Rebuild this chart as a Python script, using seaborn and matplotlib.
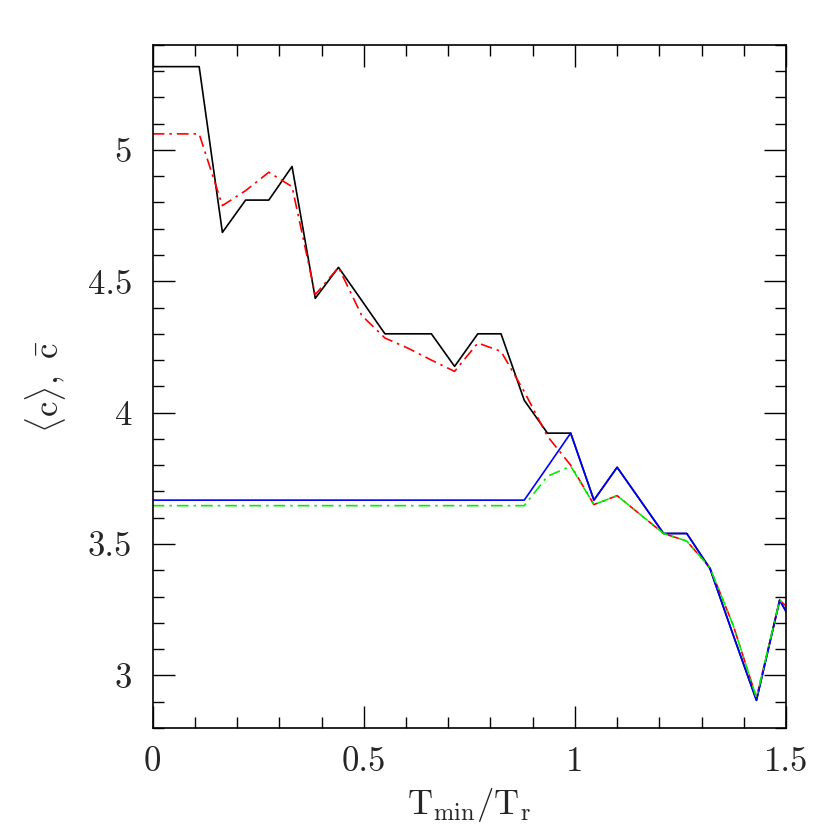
import numpy as np
import pandas as pd
import seaborn as sns
import matplotlib.pyplot as plt
from matplotlib.ticker import MultipleLocator

# T_min / T_r grid
t_ratio = [0.0, 0.055, 0.11, 0.165, 0.22, 0.275, 0.33, 0.385, 0.44, 0.495,
           0.55, 0.605, 0.66, 0.715, 0.77, 0.825, 0.88, 0.935, 0.99, 1.045,
           1.1, 1.155, 1.21, 1.265, 1.32, 1.375, 1.43, 1.485, 1.54]

# black solid
c_black = [5.317, 5.317, 5.317, 4.686, 4.809, 4.809, 4.937, 4.435, 4.553, 4.427,
           4.30, 4.30, 4.30, 4.176, 4.30, 4.30, 4.047, 3.922, 3.922, 3.667,
           3.792, 3.666, 3.540, 3.540, 3.406, 3.153, 2.905, 3.286, 3.13]

# red dash-dot
c_red = [5.061, 5.061, 5.061, 4.788, 4.845, 4.915, 4.860, 4.449, 4.553, 4.37,
         4.284, 4.245, 4.20, 4.157, 4.265, 4.233, 4.08, 3.91, 3.80, 3.65,
         3.684, 3.612, 3.540, 3.511, 3.409, 3.19, 2.915, 3.286, 3.205]

# blue solid
c_blue = [3.667, 3.667, 3.667, 3.667, 3.667, 3.667, 3.667, 3.667, 3.667, 3.667,
          3.667, 3.667, 3.667, 3.667, 3.667, 3.667, 3.667, 3.794, 3.922, 3.667,
          3.792, 3.666, 3.540, 3.540, 3.406, 3.153, 2.905, 3.286, 3.13]

# green dash-dot
c_green = [3.646, 3.646, 3.646, 3.646, 3.646, 3.646, 3.646, 3.646, 3.646, 3.646,
           3.646, 3.646, 3.646, 3.646, 3.646, 3.646, 3.646, 3.758, 3.796, 3.65,
           3.684, 3.612, 3.540, 3.511, 3.409, 3.19, 2.915, 3.286, 3.205]

sns.set_style('ticks')
plt.rcParams['mathtext.fontset'] = 'cm'
plt.rcParams['font.family'] = ['cmr10', 'DejaVu Serif']
plt.rcParams['axes.formatter.use_mathtext'] = True

fig = plt.figure(figsize=(8.3, 8.3), dpi=100)
ax = fig.add_axes([0.184, 0.123, 0.763, 0.823])

dashdot = (0, (7, 3, 1.5, 3))
sns.lineplot(x=t_ratio, y=c_black, color='black', lw=1.2, ax=ax)
sns.lineplot(x=t_ratio, y=c_red, color='red', lw=1.2, linestyle=dashdot, ax=ax)
sns.lineplot(x=t_ratio, y=c_blue, color='blue', lw=1.2, ax=ax)
sns.lineplot(x=t_ratio, y=c_green, color='#00ee00', lw=1.2, linestyle=dashdot, ax=ax)

ax.set_xlim(0, 1.5)
ax.set_ylim(2.8, 5.4)
ax.xaxis.set_major_locator(MultipleLocator(0.5))
ax.xaxis.set_minor_locator(MultipleLocator(0.1))
ax.yaxis.set_major_locator(MultipleLocator(0.5))
ax.yaxis.set_minor_locator(MultipleLocator(0.1))
ax.xaxis.set_major_formatter(plt.FuncFormatter(lambda v, p: '%g' % v))
ax.yaxis.set_major_formatter(plt.FuncFormatter(lambda v, p: '%g' % v))

ax.tick_params(which='both', direction='in', top=True, right=True,
               width=1.0, color='black', labelsize=25)
ax.tick_params(axis='y', pad=15)
ax.tick_params(axis='x', pad=13)
ax.tick_params(which='major', length=16)
ax.tick_params(which='minor', length=8)
for s in ax.spines.values():
    s.set_linewidth(1.2)
    s.set_color('black')

ax.set_xlabel(r'$\mathrm{T_{min}/T_r}$', fontsize=25, labelpad=6)
ax.set_ylabel(r'$\langle\mathrm{c}\rangle,\ \bar{\mathrm{c}}$', fontsize=25, labelpad=14)

plt.savefig('out.png', dpi=100)
